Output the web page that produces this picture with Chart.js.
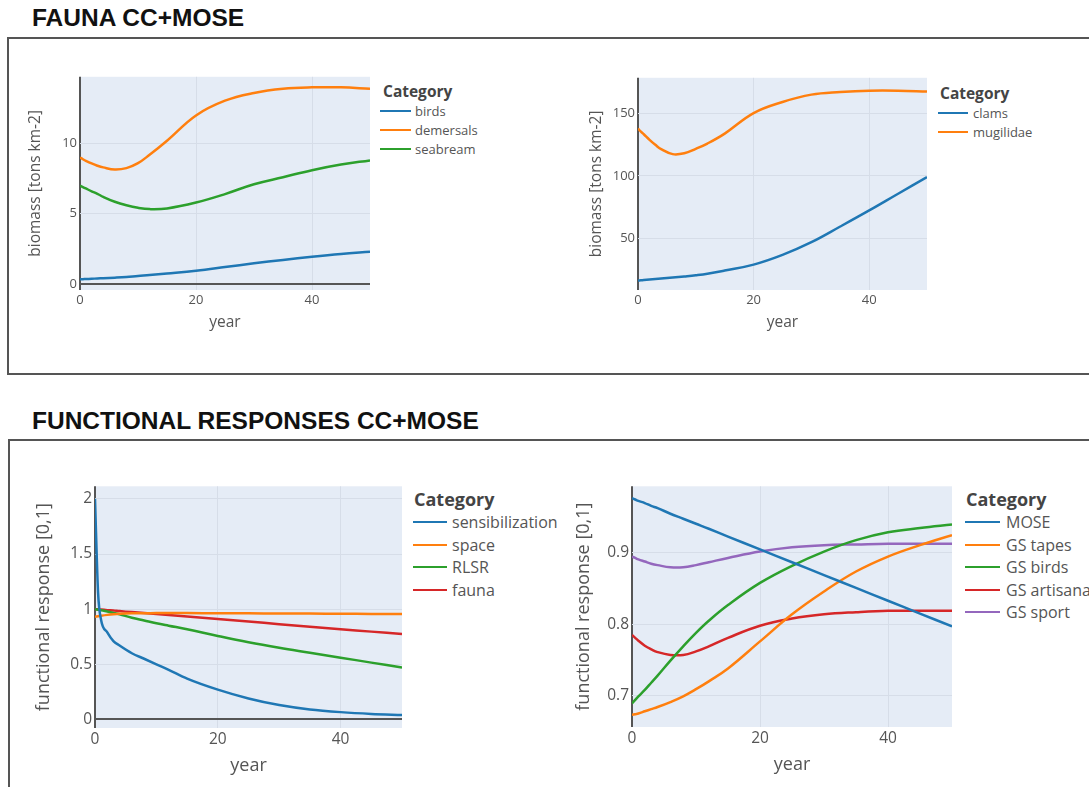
<!DOCTYPE html>
<html>
<head>
<meta charset="utf-8">
<script src="https://cdn.jsdelivr.net/npm/chart.js@4.4.0/dist/chart.umd.min.js"></script>
<style>
body { margin: 0; width: 1089px; height: 787px; overflow: hidden; background: #fff; position: relative; font-family: "Open Sans", sans-serif; }
.heading { position: absolute; left: 32px; font: bold 24.5px/24.5px "Liberation Sans", Arial, sans-serif; color: #111; white-space: nowrap; }
.panel { position: absolute; box-sizing: border-box; border: 2px solid #555; }
canvas { position: absolute; }
.legend { position: absolute; top: 0; color: #555; white-space: nowrap; }
.legend .title { font-weight: bold; color: #444; }
</style>
</head>
<body>

<div class="heading" style="top:6px">FAUNA CC+MOSE</div>
<div class="panel" style="left:7px;top:37px;width:1100px;height:338px"></div>
<div class="heading" style="top:409px">FUNCTIONAL RESPONSES CC+MOSE</div>
<div class="panel" style="left:8px;top:439px;width:1100px;height:400px"></div>

<canvas id="fauna-a" width="358" height="270" style="left:22px;top:66px"></canvas>
<canvas id="fauna-b" width="354" height="269" style="left:583px;top:67px"></canvas>
<canvas id="resp-a" width="383" height="307" style="left:29px;top:474px"></canvas>
<canvas id="resp-b" width="393" height="306" style="left:569px;top:474px"></canvas>

<script>
///////////////////////Data//////////////////////////
// simulation years (same sampling for every series)
const years = [0, 0.5, 1, 2, 3, 4, 6, 8, 10, 12, 15, 20, 25, 30, 35, 40, 45, 50];
const xTicks = [0, 20, 40];

// fauna biomass [tons km-2]
const birds     = [0.33, 0.34, 0.35, 0.37, 0.39, 0.41, 0.45, 0.5, 0.57, 0.63, 0.74, 0.94, 1.2, 1.47, 1.71, 1.94, 2.14, 2.3];
const demersals = [9.0, 8.88, 8.77, 8.58, 8.42, 8.3, 8.15, 8.25, 8.6, 9.2, 10.2, 12.0, 13.05, 13.6, 13.9, 14.0, 14.0, 13.9];
const seabream  = [7.0, 6.9, 6.8, 6.6, 6.42, 6.2, 5.85, 5.6, 5.42, 5.33, 5.38, 5.8, 6.4, 7.1, 7.6, 8.1, 8.5, 8.8];
const faunaATicks = [0, 5, 10];

const clams     = [16, 16.2, 16.4, 16.8, 17.2, 17.6, 18.5, 19.3, 20.2, 21.4, 24, 28.8, 36.6, 46.8, 59.4, 72.3, 85.7, 99];
const mugilidae = [138, 135.5, 133.5, 129, 125, 121.5, 117.5, 118.2, 121.8, 126, 134, 150.5, 159.4, 165.3, 167.4, 168.5, 168.5, 167.7];
const faunaBTicks = [50, 100, 150];

// functional responses [0,1]
const sensibilization = [2.0, 1.15, 0.9, 0.79, 0.71, 0.67, 0.6, 0.55, 0.5, 0.45, 0.37, 0.27, 0.19, 0.13, 0.09, 0.066, 0.05, 0.04];
const space = [0.93, 0.935, 0.94, 0.948, 0.954, 0.958, 0.962, 0.963, 0.964, 0.964, 0.964, 0.963, 0.962, 0.961, 0.96, 0.958, 0.957, 0.955];
const rlsr  = [1.0, 0.995, 0.99, 0.978, 0.966, 0.953, 0.922, 0.897, 0.872, 0.85, 0.818, 0.757, 0.7, 0.65, 0.605, 0.56, 0.515, 0.47];
const fauna = [1.0, 0.998, 0.996, 0.991, 0.987, 0.982, 0.973, 0.964, 0.955, 0.946, 0.933, 0.91, 0.887, 0.864, 0.84, 0.818, 0.796, 0.775];
const respATicks = [0, 0.5, 1, 1.5, 2];

const mose      = [0.977, 0.975, 0.973, 0.97, 0.966, 0.963, 0.955, 0.948, 0.941, 0.934, 0.923, 0.905, 0.887, 0.869, 0.851, 0.833, 0.815, 0.797];
const gsTapes   = [0.673, 0.674, 0.675, 0.678, 0.681, 0.684, 0.691, 0.699, 0.709, 0.72, 0.738, 0.776, 0.814, 0.846, 0.874, 0.895, 0.911, 0.925];
const gsBirds   = [0.689, 0.694, 0.699, 0.708, 0.718, 0.728, 0.749, 0.769, 0.788, 0.805, 0.827, 0.858, 0.882, 0.902, 0.918, 0.929, 0.935, 0.94];
const gsArtisanal = [0.785, 0.781, 0.777, 0.77, 0.765, 0.761, 0.757, 0.757, 0.762, 0.769, 0.781, 0.798, 0.808, 0.814, 0.817, 0.819, 0.819, 0.819];
const gsSport   = [0.895, 0.893, 0.891, 0.888, 0.885, 0.883, 0.88, 0.88, 0.883, 0.887, 0.893, 0.902, 0.908, 0.911, 0.912, 0.913, 0.913, 0.913];
const respBTicks = [0.7, 0.8, 0.9];

const colors = ['#1f77b4', '#ff7f0e', '#2ca02c', '#d62728', '#9467bd'];
const family = "'Open Sans', sans-serif";

///////////////////////Helpers//////////////////////////
// light blue plot background behind the grid
const plotBg = {
    id: 'plotBg',
    beforeDraw(chart) {
        const { ctx, chartArea: a } = chart;
        ctx.save();
        ctx.fillStyle = '#e5ecf6';
        ctx.fillRect(a.left, a.top, a.right - a.left, a.bottom - a.top);
        ctx.restore();
    }
};

// smooth bezier lines; the steep sensibilization drop keeps monotone so it can't overshoot
function series(labels, values) {
    return labels.map((label, i) => ({
        label: label,
        data: years.map((x, j) => ({ x: x, y: values[i][j] })),
        borderColor: colors[i],
        borderWidth: 2.5,
        pointRadius: 0,
        fill: false,
        tension: 0.4,
        cubicInterpolationMode: label === 'sensibilization' ? 'monotone' : 'default'
    }));
}

function gridStyle() {
    return {
        color: c => (c.tick && c.tick.value === 0) ? '#555' : '#d6dde8',
        lineWidth: c => (c.tick && c.tick.value === 0) ? 2 : 1,
        drawTicks: false
    };
}

function makeChart(id, datasets, s) {
    return new Chart(document.getElementById(id), {
        type: 'line',
        data: { datasets: datasets },
        plugins: [plotBg],
        options: {
            responsive: false,
            animation: false,
            devicePixelRatio: 1,
            layout: { padding: { top: 10, right: 10, bottom: 0, left: 0 } },
            plugins: { legend: { display: false }, tooltip: { enabled: false } },
            scales: {
                x: {
                    type: 'linear', min: 0, max: 50,
                    afterBuildTicks: ax => { ax.ticks = xTicks.map(v => ({ value: v })); },
                    afterFit: ax => { ax.height = s.xH; },
                    border: { display: false },
                    grid: gridStyle(),
                    ticks: { padding: 2, color: '#555', maxRotation: 0, font: { family: family, size: s.tick }, callback: v => v },
                    title: { display: true, text: 'year', color: '#555', font: { family: family, size: s.title } }
                },
                y: {
                    type: 'linear', min: s.yMin, max: s.yMax,
                    afterBuildTicks: ax => { ax.ticks = s.yTicks.map(v => ({ value: v })); },
                    afterFit: ax => { ax.width = s.yW; },
                    border: { display: false },
                    grid: gridStyle(),
                    ticks: { padding: 3, color: '#555', font: { family: family, size: s.tick }, callback: v => v },
                    title: { display: true, text: s.yTitle, color: '#555', font: { family: family, size: s.title } }
                }
            }
        }
    });
}

// legend with a "Category" header, built from the chart's datasets
function buildLegend(chart, b) {
    const host = document.createElement('div');
    host.className = 'legend';
    host.style.left = b.x + 'px';
    document.body.appendChild(host);
    const title = document.createElement('div');
    title.className = 'title';
    title.textContent = 'Category';
    title.style.cssText = `position:absolute;left:0;top:${b.y - 15}px;line-height:30px;font-size:${b.titleSize}px;`;
    host.appendChild(title);
    chart.data.datasets.forEach((ds, i) => {
        const cy = b.y + b.first + b.gap * i;
        const line = document.createElement('div');
        line.style.cssText = `position:absolute;left:${b.lineX}px;top:${cy - 1}px;width:${b.lineW}px;height:2px;background:${ds.borderColor};`;
        const text = document.createElement('div');
        text.textContent = ds.label;
        text.style.cssText = `position:absolute;left:${b.textX}px;top:${cy - 15}px;line-height:30px;font-size:${b.itemSize}px;`;
        host.append(line, text);
    });
}

///////////////////////Charts//////////////////////////
const faunaA = makeChart('fauna-a',
    series(['birds', 'demersals', 'seabream'], [birds, demersals, seabream]),
    { yMin: -0.43, yMax: 14.75, yTicks: faunaATicks, yTitle: 'biomass [tons km-2]', yW: 58, xH: 46, tick: 13, title: 15.5 });

const faunaB = makeChart('fauna-b',
    series(['clams', 'mugilidae'], [clams, mugilidae]),
    { yMin: 8.4, yMax: 178.8, yTicks: faunaBTicks, yTitle: 'biomass [tons km-2]', yW: 55, xH: 46, tick: 13, title: 15.5 });

const respA = makeChart('resp-a',
    series(['sensibilization', 'space', 'RLSR', 'fauna'], [sensibilization, space, rlsr, fauna]),
    { yMin: -0.078, yMax: 2.114, yTicks: respATicks, yTitle: 'functional response [0,1]', yW: 66, xH: 53, tick: 15.5, title: 18 });

const respB = makeChart('resp-b',
    series(['MOSE', 'GS tapes', 'GS birds', 'GS artisanal', 'GS sport'], [mose, gsTapes, gsBirds, gsArtisanal, gsSport]),
    { yMin: 0.656, yMax: 0.9935, yTicks: respBTicks, yTitle: 'functional response [0,1]', yW: 63, xH: 53, tick: 15.5, title: 18 });

buildLegend(faunaA, { x: 383, y: 90.5, first: 20, gap: 19.3, lineX: -3, lineW: 31, textX: 32, titleSize: 15.5, itemSize: 13 });
buildLegend(faunaB, { x: 940, y: 93, first: 20, gap: 19.3, lineX: -2, lineW: 30, textX: 33, titleSize: 15.5, itemSize: 13 });
buildLegend(respA,  { x: 414, y: 499, first: 23, gap: 22.5, lineX: -1, lineW: 34, textX: 38, titleSize: 18, itemSize: 16 });
buildLegend(respB,  { x: 966, y: 499, first: 23, gap: 22.5, lineX: -1, lineW: 35, textX: 40, titleSize: 18, itemSize: 16 });
</script>
</body>
</html>
